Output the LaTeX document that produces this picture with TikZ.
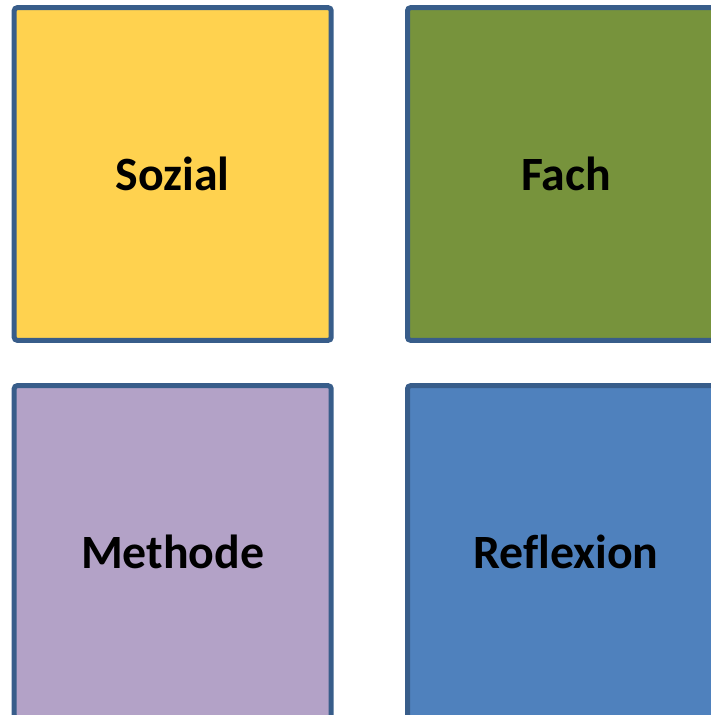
\documentclass[tikz,border=0pt]{standalone}
\usepackage{fontspec}
\setmainfont[Ligatures=NoCommon]{Carlito}
\definecolor{bordc}{HTML}{385D8A}
\definecolor{yelc}{HTML}{FFD24F}
\definecolor{grnc}{HTML}{77933C}
\definecolor{purc}{HTML}{B3A2C7}
\definecolor{bluc}{HTML}{4F81BD}
\begin{document}
\begin{tikzpicture}[x=1bp,y=-1bp,
  box/.style={draw=bordc,line width=5bp,rounded corners=3bp,inner sep=0pt,
    minimum width=317bp,minimum height=332.6bp,
    font=\fontsize{47.8bp}{55bp}\selectfont\bfseries,text=black}]
\clip (0,0) rectangle (711,715);
\node[box,fill=yelc] (soz) at (172.7,174) {Sozial};
\node[box,fill=grnc] (fach) at (566,174) {Fach};
\node[box,fill=purc] (meth) at (172.7,552) {Methode};
\node[box,fill=bluc] (refl) at (566,552) {Reflexion};
\end{tikzpicture}
\end{document}
